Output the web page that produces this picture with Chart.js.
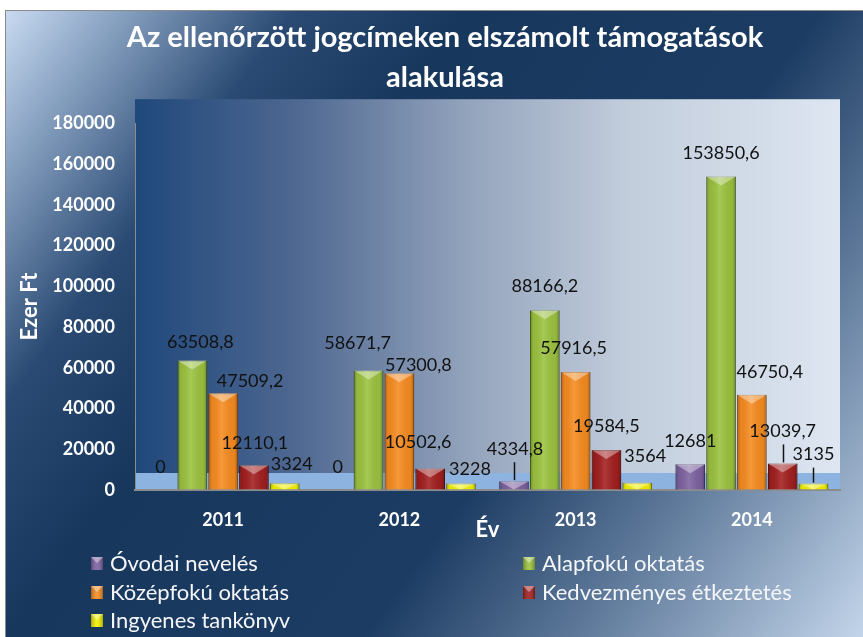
<!DOCTYPE html>
<html><head><meta charset="utf-8">
<script src="https://cdn.jsdelivr.net/npm/chart.js@4"></script>
<style>html,body{margin:0;padding:0;background:#fff;}#wrap{width:863px;height:637px;position:relative;}</style>
</head><body><div id="wrap"><canvas id="c" width="863" height="637"></canvas></div>
<script>
// ---- data ----
const years = ['2011', '2012', '2013', '2014'];
const seriesNames = ['Óvodai nevelés', 'Alapfokú oktatás', 'Középfokú oktatás', 'Kedvezményes étkeztetés', 'Ingyenes tankönyv'];
const ovodai = [0, 0, 4334.8, 12681];
const alapfoku = [63508.8, 58671.7, 88166.2, 153850.6];
const kozepfoku = [47509.2, 57300.8, 57916.5, 46750.4];
const kedvezmenyes = [12110.1, 10502.6, 19584.5, 13039.7];
const ingyenes = [3324, 3228, 3564, 3135];
const yTickValues = [0, 20000, 40000, 60000, 80000, 100000, 120000, 140000, 160000, 180000];
const titleLines = ['Az ellenőrzött jogcímeken elszámolt támogatások', 'alakulása'];
const xTitle = 'Év';
const yTitle = 'Ezer Ft';

// ---- styles ----
const FONT = 'Lato';
const colors = ['#7d62a0', '#9bc23e', '#f68b1f', '#a21e1e', '#f2f200'];
const borders = ['#4e3a6a', '#5e7a22', '#a85a10', '#5e0c0c', '#9a9a00'];
// label offsets (px) relative to bar centre / bar top, per series per category
const labelOffsets = [
  [[-1, -23], [0, -23], [1, -32], [0, -23]],
  [[8, -18], [-11, -27], [0, -24], [0, -23]],
  [[27, -12], [19, -8], [-2, -24], [18, -23]],
  [[1, -22], [-12, -26], [0, -24], [0, -32]],
  [[7, -19], [9, -14], [8, -27], [0, -29]]
];
const leaders = [
  [false, false, true, false],
  [false, false, false, false],
  [false, false, false, false],
  [false, false, false, true],
  [false, false, false, true]
];

const seriesData = [ovodai, alapfoku, kozepfoku, kedvezmenyes, ingyenes];
const fmt = v => String(v).replace('.', ',');

const bgPlugin = {
  id: 'bg',
  afterLayout(chart) {
    const t = chart.titleBlock;
    if (t) { t.left = 27; t.right = 863; t.width = 836; }
  },
  beforeDraw(chart) {
    const ctx = chart.ctx, W = chart.width, H = chart.height, ca = chart.chartArea;
    ctx.save();
    ctx.fillStyle = '#fff';
    ctx.fillRect(0, 0, W, H);
    const g = ctx.createLinearGradient(5, 10, W, H);
    g.addColorStop(0, '#c9dbf1');
    g.addColorStop(0.08, '#8ea7c6');
    g.addColorStop(0.22, '#2a4a73');
    g.addColorStop(0.35, '#18375d');
    g.addColorStop(0.62, '#1d3c63');
    g.addColorStop(0.78, '#5d7899');
    g.addColorStop(1, '#c3d5ea');
    ctx.fillStyle = g;
    ctx.fillRect(5, 10, W - 5, H - 10);
    ctx.strokeStyle = '#8a8a8a';
    ctx.lineWidth = 1;
    ctx.strokeRect(5.5, 10.5, W, H);
    // plot walls
    const top = ca.top - 24;
    const pg = ctx.createLinearGradient(ca.left, 0, ca.right, 0);
    pg.addColorStop(0, '#1f487b');
    pg.addColorStop(0.22, '#4c6690');
    pg.addColorStop(0.48, '#95a5bd');
    pg.addColorStop(0.7, '#c2cddc');
    pg.addColorStop(1, '#dde6f1');
    ctx.fillStyle = pg;
    ctx.fillRect(ca.left, top, ca.right - ca.left, ca.bottom - top);
    // floor
    ctx.fillStyle = '#8db3e0';
    ctx.fillRect(ca.left, ca.bottom - 17, ca.right - ca.left, 17);
    ctx.restore();
  }
};

const bevelPlugin = {
  id: 'bevel',
  afterDatasetsDraw(chart) {
    const ctx = chart.ctx;
    ctx.save();
    chart.data.datasets.forEach((ds, di) => {
      chart.getDatasetMeta(di).data.forEach(el => {
        const h = el.base - el.y;
        if (h < 1) return;
        const l = el.x - el.width / 2, r = el.x + el.width / 2, t = el.y;
        const g = ctx.createLinearGradient(l, 0, r, 0);
        g.addColorStop(0, 'rgba(0,0,0,0.28)');
        g.addColorStop(0.12, 'rgba(0,0,0,0.05)');
        g.addColorStop(0.45, 'rgba(255,255,255,0.12)');
        g.addColorStop(0.88, 'rgba(0,0,0,0.05)');
        g.addColorStop(1, 'rgba(0,0,0,0.3)');
        ctx.fillStyle = g;
        ctx.fillRect(l, t, r - l, h);
        const bv = Math.min(9, h);
        ctx.beginPath();
        ctx.moveTo(l, t); ctx.lineTo(r, t); ctx.lineTo(el.x, t + bv); ctx.closePath();
        ctx.fillStyle = 'rgba(255,255,255,0.38)';
        ctx.fill();
      });
    });
    ctx.restore();
  }
};

const labelPlugin = {
  id: 'vlabels',
  afterDatasetsDraw(chart) {
    const ctx = chart.ctx;
    ctx.save();
    ctx.font = '18px ' + FONT;
    ctx.fillStyle = '#111';
    ctx.textAlign = 'center';
    ctx.textBaseline = 'middle';
    chart.data.datasets.forEach((ds, di) => {
      chart.getDatasetMeta(di).data.forEach((el, i) => {
        const [dx, dy] = labelOffsets[di][i];
        const lx = el.x + dx, ly = el.y + dy;
        ctx.fillText(fmt(ds.data[i]), lx, ly);
        if (leaders[di][i]) {
          ctx.strokeStyle = '#111';
          ctx.lineWidth = 1.5;
          ctx.beginPath();
          ctx.moveTo(Math.round(el.x) + 0.5, ly + 13);
          ctx.lineTo(Math.round(el.x) + 0.5, el.y - 1);
          ctx.stroke();
        }
      });
    });
    ctx.restore();
  }
};

const legendPlugin = {
  id: 'customLegend',
  afterDraw(chart) {
    const ctx = chart.ctx;
    const cols = [91, 523], rows = [563, 592, 620];
    ctx.save();
    ctx.font = '22px ' + FONT;
    ctx.textBaseline = 'middle';
    ctx.textAlign = 'left';
    chart.data.datasets.forEach((ds, i) => {
      const x = cols[i % 2], y = rows[Math.floor(i / 2)];
      ctx.fillStyle = ds.backgroundColor;
      ctx.fillRect(x, y - 6, 12, 13);
      const g = ctx.createLinearGradient(x, 0, x + 12, 0);
      g.addColorStop(0, 'rgba(0,0,0,0.3)');
      g.addColorStop(0.5, 'rgba(255,255,255,0.1)');
      g.addColorStop(1, 'rgba(0,0,0,0.3)');
      ctx.fillStyle = g;
      ctx.fillRect(x, y - 6, 12, 13);
      ctx.beginPath();
      ctx.moveTo(x, y - 6); ctx.lineTo(x + 12, y - 6); ctx.lineTo(x + 6, y); ctx.closePath();
      ctx.fillStyle = 'rgba(255,255,255,0.4)';
      ctx.fill();
      ctx.fillStyle = '#f4f6f9';
      ctx.fillText(ds.label, x + 19, y + 1);
    });
    ctx.restore();
  }
};

new Chart(document.getElementById('c'), {
  type: 'bar',
  data: {
    labels: years,
    datasets: seriesData.map((d, i) => ({
      label: seriesNames[i],
      data: d,
      backgroundColor: colors[i],
      borderColor: borders[i],
      borderWidth: 1,
      categoryPercentage: 0.874,
      barPercentage: 0.96
    }))
  },
  options: {
    responsive: false,
    devicePixelRatio: 1,
    animation: false,
    layout: { padding: { left: 0, right: 23, top: 0, bottom: 0 } },
    plugins: {
      legend: { display: false },
      tooltip: { enabled: false },
      title: {
        display: true,
        text: titleLines,
        color: '#ffffff',
        font: { family: FONT, size: 29, weight: 'bold', lineHeight: 1.4 },
        padding: { top: 17, bottom: 25 }
      }
    },
    scales: {
      x: {
        grid: { display: true, color: 'transparent', drawTicks: false },
        border: { display: true, color: '#8c8c8c', width: 2 },
        ticks: { color: '#ffffff', font: { family: FONT, size: 18, weight: 'bold' }, padding: 19 },
        title: { display: true, text: xTitle, color: '#ffffff', font: { family: FONT, size: 22, weight: 'bold', lineHeight: 1.2 }, padding: { top: 0, bottom: 94 } },
        afterFit(s) { s.height = 147; }
      },
      y: {
        min: 0, max: 180000,
        afterBuildTicks(s) { s.ticks = yTickValues.map(v => ({ value: v })); },
        grid: { display: true, color: 'transparent', drawTicks: false },
        border: { display: true, color: '#8c8c8c', width: 1 },
        ticks: { color: '#ffffff', font: { family: FONT, size: 18, weight: 'bold' }, padding: 20, callback: v => String(v) },
        title: { display: true, text: yTitle, color: '#ffffff', font: { family: FONT, size: 22, weight: 'bold', lineHeight: 1.2 }, padding: { top: 17, bottom: 0 } },
        afterFit(s) { s.width = 135; }
      }
    }
  },
  plugins: [bgPlugin, bevelPlugin, labelPlugin, legendPlugin]
});
</script>
</body></html>
